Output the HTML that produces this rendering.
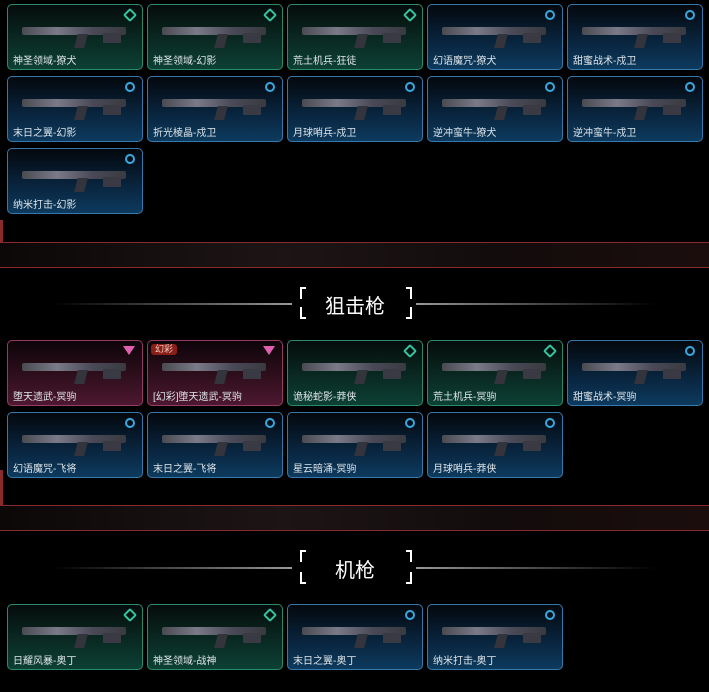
<!DOCTYPE html>
<html><head><meta charset="utf-8"><style>
*{margin:0;padding:0;box-sizing:border-box}
body{width:709px;height:692px;background:#000;position:relative;overflow:hidden;font-family:"Liberation Sans","Noto Sans CJK SC",sans-serif}
.c{position:absolute;width:136px;height:66px;border-radius:5px;border:1px solid;overflow:hidden}
.g{border-color:#2a8a6e;background:linear-gradient(#050c0b,#0a2c24 60%,#0d4034)}
.b{border-color:#3579aa;background:linear-gradient(#04080e,#092640 60%,#0d3a5e)}
.p{border-color:#963b63;background:linear-gradient(#0c0408,#33101f 60%,#4d1830)}
.c span{position:absolute;left:5px;bottom:2px;font-size:10px;color:#dfe6ea;white-space:nowrap}
.c i{position:absolute;right:7px;top:5px;width:10px;height:10px;border-radius:50%;border:2px solid #3aa8e0}
.g i{border-color:#35c4a0;transform:rotate(45deg);border-radius:2px}
.p i{border:none;border-radius:0;width:0;height:0;border-left:6px solid transparent;border-right:6px solid transparent;border-top:9px solid #e060b0;top:5px}
.c b{position:absolute;left:14px;top:22px;width:104px;height:8px;background:linear-gradient(90deg,#4a4a52,#7a7a88,#4a4a58,#3a3a40);border-radius:2px}
.c u{position:absolute;left:68px;top:29px;width:10px;height:14px;background:#34343c;transform:skewX(-15deg)}
.c s{position:absolute;left:95px;top:28px;width:18px;height:10px;background:#3a3a44}
.band{position:absolute;left:0;width:709px;height:26px;background:linear-gradient(90deg,#0c0808,#1d1515 40%,#120c0c 70%,#1c0d0d);border-top:1px solid #8a2a2a;border-bottom:1px solid #8a2a2a}
.line{position:absolute;height:2px;background:linear-gradient(90deg,transparent,#777 80%,#999)}
.line.r{background:linear-gradient(90deg,#999,#777 20%,transparent)}
.h{position:absolute;color:#fff;font-size:20px;text-align:center;width:80px}
.k{position:absolute;width:6px;height:12px;border:2px solid #fff}
</style></head><body>
<div style="position:absolute;left:0;top:220px;width:3px;height:23px;background:#8a2a2a"></div>
<div class="band" style="top:242px"></div>
<div class="band" style="top:505px"></div>
<div style="position:absolute;left:0;top:470px;width:3px;height:35px;background:#8a2a2a"></div>

<div class="c g" style="left:7px;top:4px"><b></b><u></u><s></s><i></i><span>神圣领域-獠犬</span></div>
<div class="c g" style="left:147px;top:4px"><b></b><u></u><s></s><i></i><span>神圣领域-幻影</span></div>
<div class="c g" style="left:287px;top:4px"><b></b><u></u><s></s><i></i><span>荒土机兵-狂徒</span></div>
<div class="c b" style="left:427px;top:4px"><b></b><u></u><s></s><i></i><span>幻语魔咒-獠犬</span></div>
<div class="c b" style="left:567px;top:4px"><b></b><u></u><s></s><i></i><span>甜蜜战术-戍卫</span></div>
<div class="c b" style="left:7px;top:76px"><b></b><u></u><s></s><i></i><span>末日之翼-幻影</span></div>
<div class="c b" style="left:147px;top:76px"><b></b><u></u><s></s><i></i><span>折光棱晶-戍卫</span></div>
<div class="c b" style="left:287px;top:76px"><b></b><u></u><s></s><i></i><span>月球哨兵-戍卫</span></div>
<div class="c b" style="left:427px;top:76px"><b></b><u></u><s></s><i></i><span>逆冲蛮牛-獠犬</span></div>
<div class="c b" style="left:567px;top:76px"><b></b><u></u><s></s><i></i><span>逆冲蛮牛-戍卫</span></div>
<div class="c b" style="left:7px;top:148px"><b></b><u></u><s></s><i></i><span>纳米打击-幻影</span></div>

<div class="line" style="left:52px;top:303px;width:240px"></div>
<div class="line r" style="left:416px;top:303px;width:240px"></div>
<div class="k" style="left:300px;top:287px;border-right:none;border-bottom:none"></div>
<div class="k" style="left:300px;top:307px;border-right:none;border-top:none"></div>
<div class="k" style="left:406px;top:287px;border-left:none;border-bottom:none"></div>
<div class="k" style="left:406px;top:307px;border-left:none;border-top:none"></div>
<div class="h" style="left:315px;top:290px">狙击枪</div>

<div class="c p" style="left:7px;top:340px"><b></b><u></u><s></s><i></i><span>堕天遗武-冥驹</span></div>
<div class="c p" style="left:147px;top:340px"><div style="position:absolute;left:3px;top:3px;background:#8a1f1a;color:#f0d0c0;font-size:9px;padding:0 4px;border-radius:3px;line-height:11px">幻彩</div><b></b><u></u><s></s><i></i><span>[幻彩]堕天遗武-冥驹</span></div>
<div class="c g" style="left:287px;top:340px"><b></b><u></u><s></s><i></i><span>诡秘蛇影-莽侠</span></div>
<div class="c g" style="left:427px;top:340px"><b></b><u></u><s></s><i></i><span>荒土机兵-冥驹</span></div>
<div class="c b" style="left:567px;top:340px"><b></b><u></u><s></s><i></i><span>甜蜜战术-冥驹</span></div>
<div class="c b" style="left:7px;top:412px"><b></b><u></u><s></s><i></i><span>幻语魔咒-飞将</span></div>
<div class="c b" style="left:147px;top:412px"><b></b><u></u><s></s><i></i><span>末日之翼-飞将</span></div>
<div class="c b" style="left:287px;top:412px"><b></b><u></u><s></s><i></i><span>星云暗涌-冥驹</span></div>
<div class="c b" style="left:427px;top:412px"><b></b><u></u><s></s><i></i><span>月球哨兵-莽侠</span></div>

<div class="line" style="left:52px;top:567px;width:240px"></div>
<div class="line r" style="left:416px;top:567px;width:240px"></div>
<div class="k" style="left:300px;top:550px;border-right:none;border-bottom:none"></div>
<div class="k" style="left:300px;top:572px;border-right:none;border-top:none"></div>
<div class="k" style="left:406px;top:550px;border-left:none;border-bottom:none"></div>
<div class="k" style="left:406px;top:572px;border-left:none;border-top:none"></div>
<div class="h" style="left:315px;top:554px">机枪</div>

<div class="c g" style="left:7px;top:604px"><b></b><u></u><s></s><i></i><span>日耀风暴-奥丁</span></div>
<div class="c g" style="left:147px;top:604px"><b></b><u></u><s></s><i></i><span>神圣领域-战神</span></div>
<div class="c b" style="left:287px;top:604px"><b></b><u></u><s></s><i></i><span>末日之翼-奥丁</span></div>
<div class="c b" style="left:427px;top:604px"><b></b><u></u><s></s><i></i><span>纳米打击-奥丁</span></div>
</body></html>
